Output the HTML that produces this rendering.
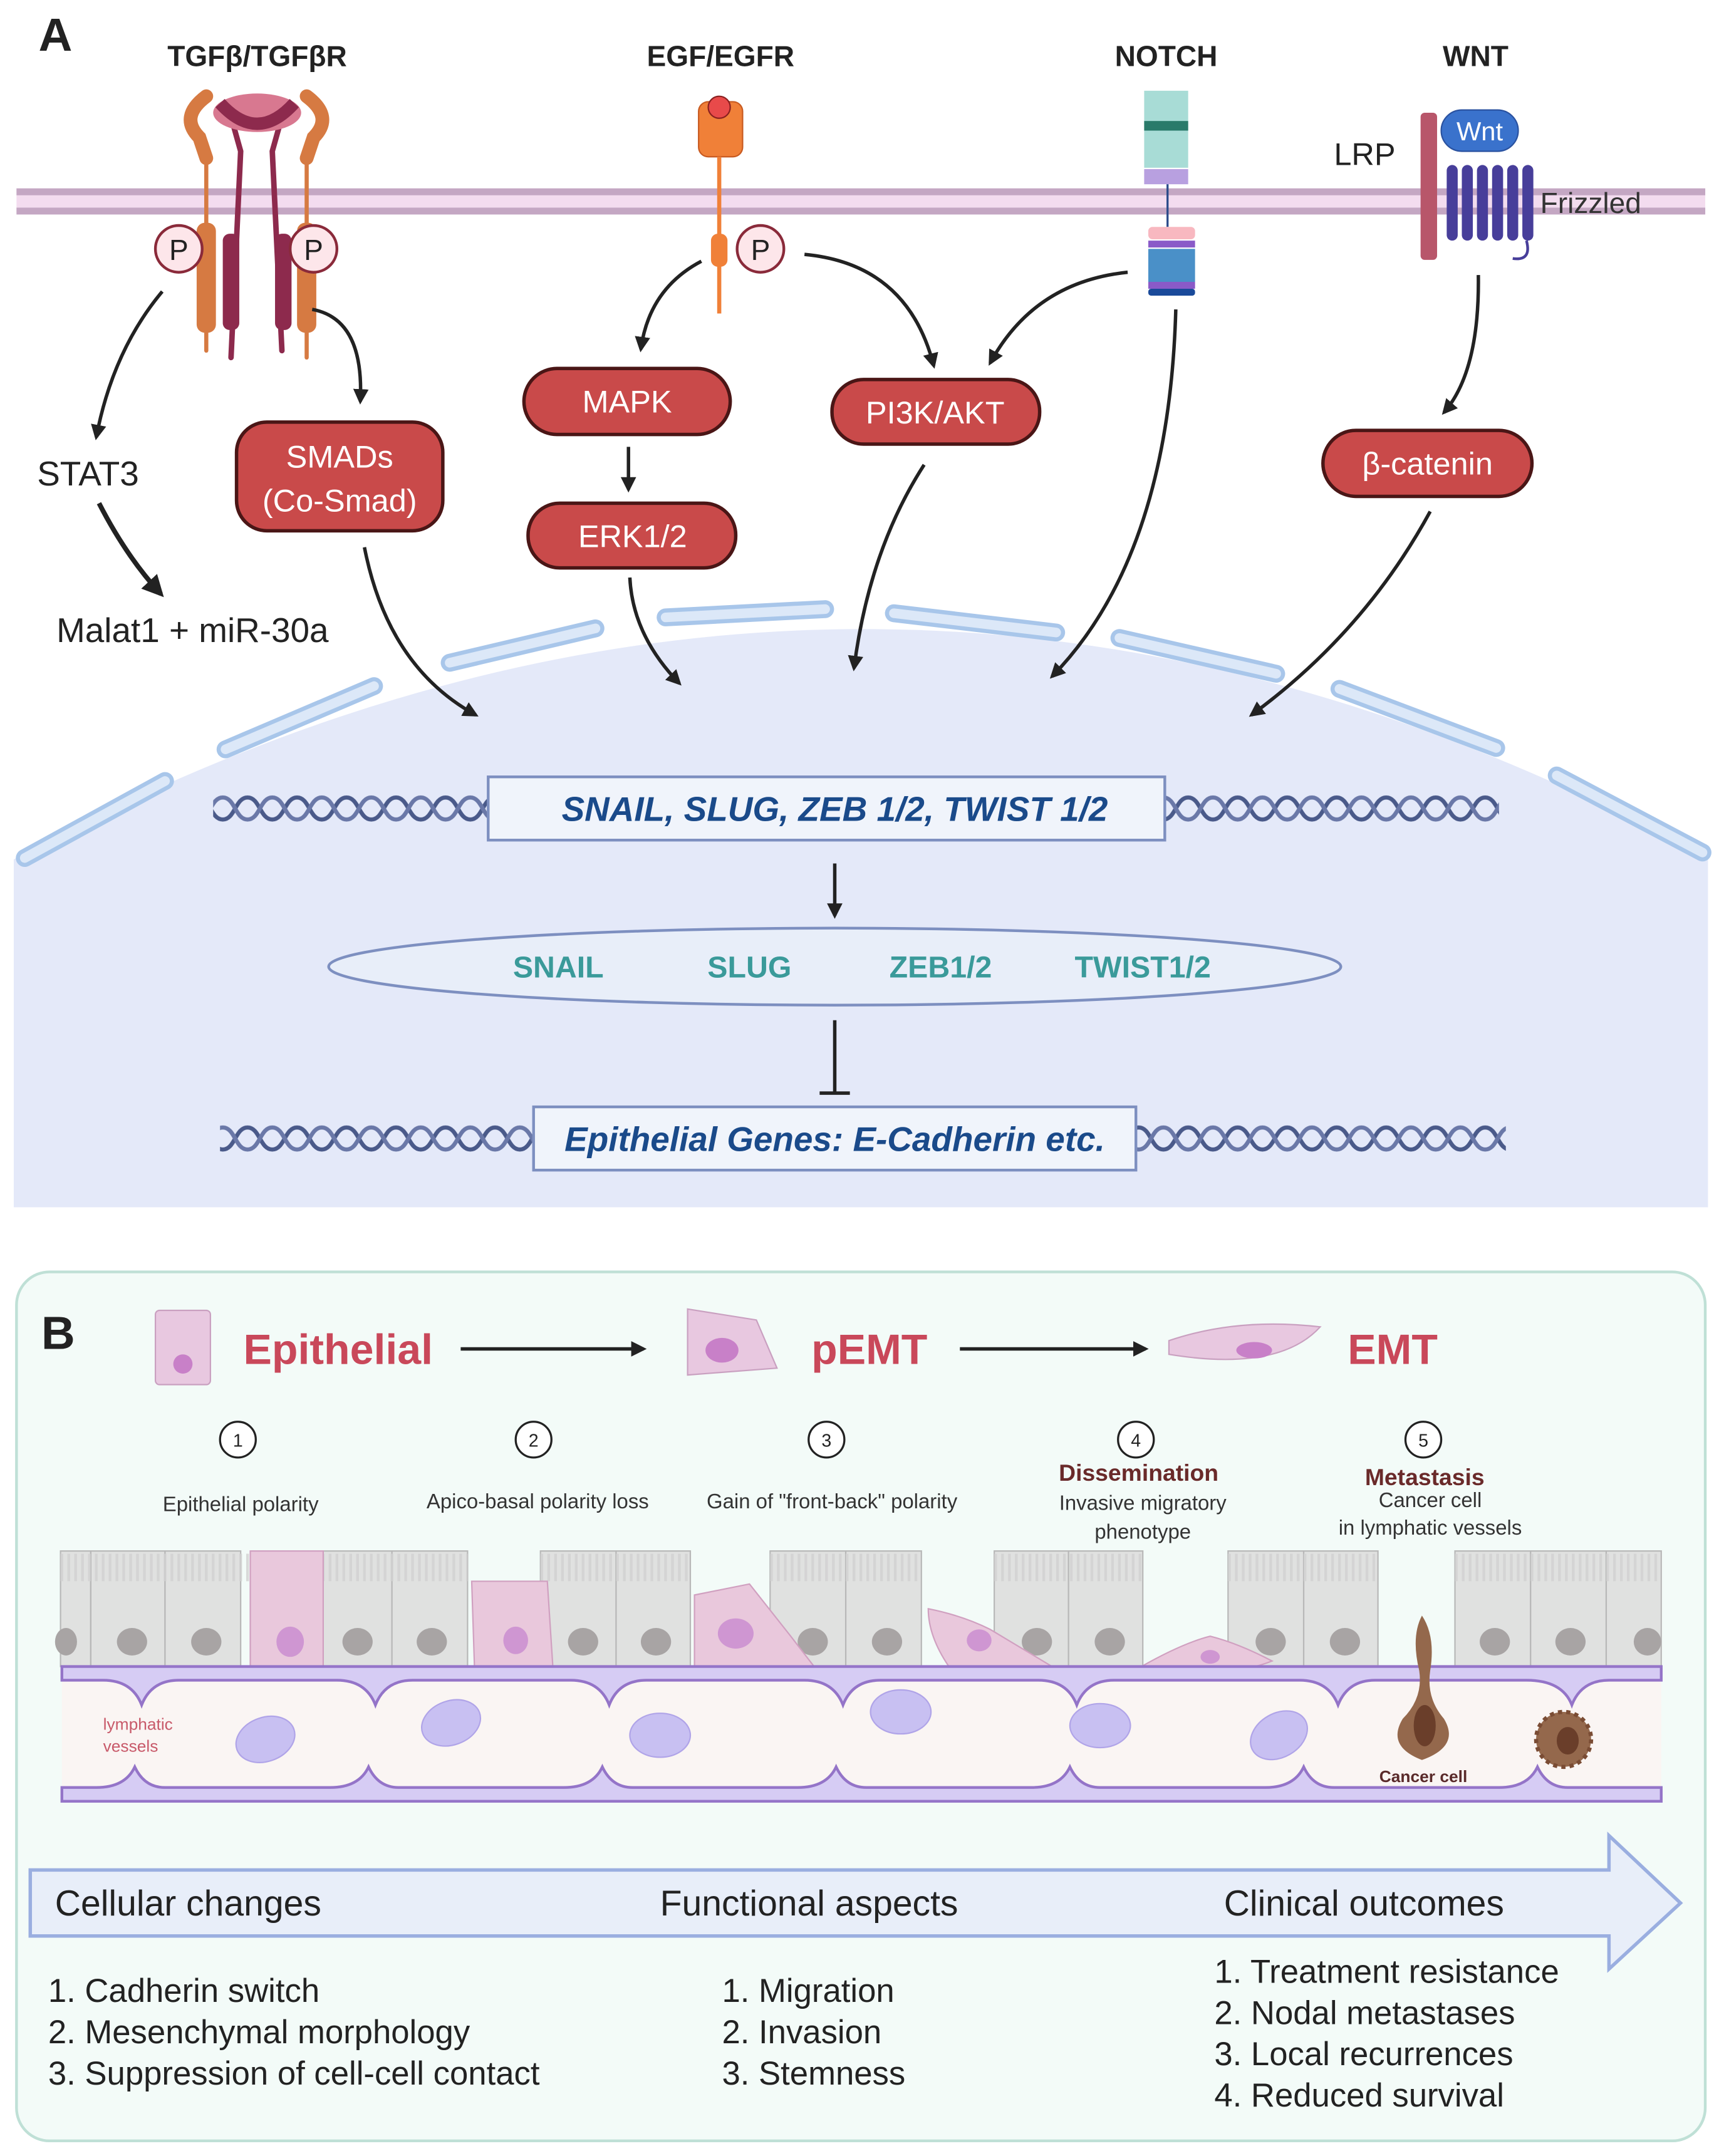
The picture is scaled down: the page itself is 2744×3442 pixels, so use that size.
<!DOCTYPE html>
<html><head><meta charset="utf-8"><style>
html,body{margin:0;padding:0;background:#fff}
svg{display:block}
text{font-family:"Liberation Sans",sans-serif}
</style></head><body>
<svg width="2744" height="3442" viewBox="0 0 1250 1568" preserveAspectRatio="none" xmlns="http://www.w3.org/2000/svg">
<defs>
<marker id="ah" viewBox="0 0 10 10" refX="8" refY="5" markerWidth="4.5" markerHeight="4.5" orient="auto"><path d="M0,0 L10,5 L0,10 z" fill="#222"/></marker>
<pattern id="dna" x="0" y="0" width="36" height="24" patternUnits="userSpaceOnUse">
<path d="M0,4 C9,4 9,20 18,20 C27,20 27,4 36,4" fill="none" stroke="#4a5a8a" stroke-width="3"/>
<path d="M0,20 C9,20 9,4 18,4 C27,4 27,20 36,20" fill="none" stroke="#6a78a8" stroke-width="3"/>
</pattern>
</defs>

<path d="M10,625 Q630,290 1242,625 L1242,878 L10,878 Z" fill="#e4e9f9"/>
<g stroke-linecap="round" fill="none">
<g stroke="#a8c6ea" stroke-width="13">
<path d="M18,624 L120,568"/><path d="M164,545 L272,499"/><path d="M327,482 L433,457"/><path d="M484,449 L600,443"/><path d="M650,446 L768,460"/><path d="M814,464 L928,490"/><path d="M974,501 L1088,544"/><path d="M1132,564 L1238,620"/>
</g>
<g stroke="#dce8f8" stroke-width="7">
<path d="M18,624 L120,568"/><path d="M164,545 L272,499"/><path d="M327,482 L433,457"/><path d="M484,449 L600,443"/><path d="M650,446 L768,460"/><path d="M814,464 L928,490"/><path d="M974,501 L1088,544"/><path d="M1132,564 L1238,620"/>
</g></g>

<rect x="12" y="137" width="1228" height="19" fill="#f3dcef"/>
<rect x="12" y="137" width="1228" height="5" fill="#c4a7c3"/>
<rect x="12" y="151" width="1228" height="5" fill="#c4a7c3"/>

<text x="28" y="37" font-size="34" font-weight="bold" fill="#222">A</text>
<g font-size="21" font-weight="bold" fill="#222" text-anchor="middle">
<text x="187" y="48">TGFβ/TGFβR</text><text x="524" y="48">EGF/EGFR</text><text x="848" y="48">NOTCH</text><text x="1073" y="48">WNT</text>
</g>

<g stroke-linecap="round" fill="none">
<path d="M150,70 Q130,85 145,100 L150,115" stroke="#d67a42" stroke-width="10"/>
<path d="M223,70 Q243,85 228,100 L223,115" stroke="#d67a42" stroke-width="10"/>
<path d="M150,110 L150,255" stroke="#d67a42" stroke-width="3"/>
<path d="M223,110 L223,260" stroke="#d67a42" stroke-width="3"/>
<path d="M168,85 L175,110 L168,260" stroke="#8d2a4d" stroke-width="4"/>
<path d="M205,85 L198,110 L205,255" stroke="#8d2a4d" stroke-width="4"/>
</g>
<ellipse cx="187" cy="82" rx="32" ry="14" fill="#d87890"/>
<path d="M160,75 Q187,105 214,75" stroke="#8d2a4d" stroke-width="9" fill="none"/>
<rect x="143" y="162" width="14" height="80" rx="6" fill="#d67a42"/>
<rect x="216" y="162" width="14" height="80" rx="6" fill="#d67a42"/>
<rect x="162" y="170" width="12" height="70" rx="5" fill="#8d2a4d"/>
<rect x="200" y="170" width="12" height="70" rx="5" fill="#8d2a4d"/>

<rect x="508" y="74" width="32" height="40" rx="7" fill="#f08038" stroke="#c85a20"/>
<circle cx="523" cy="78" r="8" fill="#e84a4a" stroke="#8a2020"/>
<line x1="523" y1="114" x2="523" y2="228" stroke="#f08038" stroke-width="3"/>
<rect x="517" y="170" width="12" height="24" rx="5" fill="#f08038"/>

<g fill="#fde6ea" stroke="#8a2a3a" stroke-width="2">
<circle cx="130" cy="181" r="17"/><circle cx="228" cy="181" r="17"/><circle cx="553" cy="181" r="17"/>
</g>
<g font-size="21" fill="#222" text-anchor="middle"><text x="130" y="189">P</text><text x="228" y="189">P</text><text x="553" y="189">P</text></g>

<rect x="832" y="66" width="32" height="56" fill="#a8dcd6"/>
<rect x="832" y="88" width="32" height="7" fill="#2a7a6a"/>
<rect x="832" y="123" width="32" height="11" fill="#b8a0e0"/>
<line x1="849" y1="134" x2="849" y2="165" stroke="#2a4a8a" stroke-width="1.5"/>
<rect x="835" y="165" width="34" height="9" rx="3" fill="#f8b8c0"/>
<rect x="835" y="175" width="34" height="5" fill="#8a5ac8"/>
<rect x="835" y="181" width="34" height="24" fill="#4a90c8"/>
<rect x="835" y="205" width="34" height="5" fill="#8a5ac8"/>
<rect x="835" y="210" width="34" height="5" rx="2" fill="#1a4a9a"/>

<text x="970" y="120" font-size="23" fill="#222">LRP</text>
<rect x="1033" y="82" width="12" height="107" rx="3" fill="#b8566a"/>
<rect x="1048" y="80" width="56" height="30" rx="15" fill="#3a72cc" stroke="#2a52a0"/>
<text x="1076" y="102" font-size="19" fill="#fff" text-anchor="middle">Wnt</text>
<g fill="#473e9a">
<rect x="1052" y="120" width="8" height="55" rx="4"/><rect x="1063" y="120" width="8" height="55" rx="4"/><rect x="1074" y="120" width="8" height="55" rx="4"/><rect x="1085" y="120" width="8" height="55" rx="4"/><rect x="1096" y="120" width="8" height="55" rx="4"/><rect x="1107" y="120" width="8" height="55" rx="4"/>
</g>
<path d="M1110,175 Q1114,190 1100,188" stroke="#473e9a" stroke-width="2" fill="none"/>
<text x="1120" y="155" font-size="21" fill="#333">Frizzled</text>

<g fill="#c94a4a" stroke="#4a1616" stroke-width="2.5">
<rect x="172" y="307" width="150" height="79" rx="22"/>
<rect x="381" y="268" width="150" height="48" rx="24"/>
<rect x="384" y="366" width="151" height="47" rx="23"/>
<rect x="605" y="276" width="151" height="47" rx="23"/>
<rect x="962" y="313" width="152" height="48" rx="24"/>
</g>
<g fill="#fff" font-size="23" text-anchor="middle">
<text x="247" y="340">SMADs</text><text x="247" y="372">(Co-Smad)</text>
<text x="456" y="300">MAPK</text><text x="460" y="398">ERK1/2</text>
<text x="680" y="308">PI3K/AKT</text><text x="1038" y="345">β-catenin</text>
</g>
<text x="64" y="353" font-size="25" fill="#222" text-anchor="middle">STAT3</text>
<text x="140" y="467" font-size="25" fill="#222" text-anchor="middle">Malat1 + miR-30a</text>

<g fill="none" stroke="#222" stroke-width="2.5" marker-end="url(#ah)">
<path d="M118,212 Q82,255 70,318"/>
<path d="M227,225 Q265,232 262,292"/>
<path d="M72,366 Q92,405 117,432" stroke-width="3.5"/>
<path d="M510,190 Q472,210 466,254"/>
<path d="M457,325 L457,356"/>
<path d="M585,185 Q660,192 679,266"/>
<path d="M820,198 Q752,205 720,264"/>
<path d="M265,398 Q282,485 346,520"/>
<path d="M458,420 Q460,462 494,497"/>
<path d="M672,338 Q632,400 621,486"/>
<path d="M855,225 Q850,405 765,492"/>
<path d="M1075,200 Q1076,270 1050,300"/>
<path d="M1040,372 Q992,460 910,520"/>
<path d="M607,628 L607,666"/>
</g>

<rect x="155" y="576" width="200" height="24" fill="url(#dna)"/>
<rect x="847" y="576" width="243" height="24" fill="url(#dna)"/>
<rect x="355" y="565" width="492" height="46" fill="#f0f4fb" stroke="#7d8fc0" stroke-width="2"/>
<text x="607" y="597" font-size="25" font-weight="bold" font-style="italic" fill="#1a4a8a" text-anchor="middle">SNAIL, SLUG, ZEB 1/2, TWIST 1/2</text>

<ellipse cx="607" cy="703" rx="368" ry="28" fill="#e8eef9" stroke="#7d8fc0" stroke-width="2"/>
<g font-size="22" font-weight="bold" fill="#3a9a9a" text-anchor="middle">
<text x="406" y="711">SNAIL</text><text x="545" y="711">SLUG</text><text x="684" y="711">ZEB1/2</text><text x="831" y="711">TWIST1/2</text>
</g>
<line x1="607" y1="742" x2="607" y2="795" stroke="#222" stroke-width="2.5"/>
<line x1="596" y1="795" x2="618" y2="795" stroke="#222" stroke-width="2.5"/>

<rect x="160" y="814" width="228" height="24" fill="url(#dna)"/>
<rect x="826" y="814" width="269" height="24" fill="url(#dna)"/>
<rect x="388" y="805" width="438" height="46" fill="#f0f4fb" stroke="#7d8fc0" stroke-width="2"/>
<text x="607" y="837" font-size="25" font-weight="bold" font-style="italic" fill="#1a4a8a" text-anchor="middle">Epithelial Genes: E-Cadherin etc.</text>

<rect x="12" y="925" width="1228" height="632" rx="24" fill="#f3fbf8" stroke="#bfe0d6" stroke-width="2"/>
<text x="30" y="981" font-size="34" font-weight="bold" fill="#222">B</text>
<rect x="113" y="953" width="40" height="54" rx="3" fill="#e8c8e0" stroke="#c9a0c0"/>
<ellipse cx="133" cy="992" rx="7" ry="7" fill="#c880c8"/>
<text x="177" y="992" font-size="31" font-weight="bold" fill="#c9485a">Epithelial</text>
<path d="M500,952 L550,960 L565,995 L500,1000 Z" fill="#e8c8e0" stroke="#c9a0c0"/>
<ellipse cx="525" cy="982" rx="12" ry="9" fill="#c880c8"/>
<text x="590" y="992" font-size="31" font-weight="bold" fill="#c9485a">pEMT</text>
<path d="M850,975 Q900,958 960,965 Q930,998 850,985 Z" fill="#e8c8e0" stroke="#c9a0c0"/>
<ellipse cx="912" cy="982" rx="13" ry="6" fill="#c880c8"/>
<text x="980" y="992" font-size="31" font-weight="bold" fill="#c9485a">EMT</text>
<g stroke="#222" stroke-width="2.5" marker-end="url(#ah)"><line x1="335" y1="981" x2="468" y2="981"/><line x1="698" y1="981" x2="833" y2="981"/></g>

<g fill="#fff" stroke="#222" stroke-width="1.5"><circle cx="173" cy="1047" r="13"/><circle cx="388" cy="1047" r="13"/><circle cx="601" cy="1047" r="13"/><circle cx="826" cy="1047" r="13"/><circle cx="1035" cy="1047" r="13"/></g>
<g font-size="13" fill="#222" text-anchor="middle"><text x="173" y="1052">1</text><text x="388" y="1052">2</text><text x="601" y="1052">3</text><text x="826" y="1052">4</text><text x="1035" y="1052">5</text></g>
<g font-size="15" fill="#333" text-anchor="middle">
<text x="175" y="1099">Epithelial polarity</text><text x="391" y="1097">Apico-basal polarity loss</text><text x="605" y="1097">Gain of "front-back" polarity</text>
<text x="831" y="1098">Invasive migratory</text><text x="831" y="1119">phenotype</text>
<text x="1040" y="1096">Cancer cell</text><text x="1040" y="1116">in lymphatic vessels</text>
</g>
<g font-size="17" font-weight="bold" fill="#6a2a2a" text-anchor="middle"><text x="828" y="1077">Dissemination</text><text x="1036" y="1080">Metastasis</text></g>

<g fill="#e0e1e0" stroke="#b8b8b8" stroke-width="1">
<rect x="44" y="1128" width="22" height="84"/><rect x="66" y="1128" width="54" height="84"/><rect x="120" y="1128" width="55" height="84"/>
<rect x="235" y="1128" width="50" height="84"/><rect x="285" y="1128" width="55" height="84"/>
<rect x="393" y="1128" width="55" height="84"/><rect x="448" y="1128" width="54" height="84"/>
<rect x="560" y="1128" width="55" height="84"/><rect x="615" y="1128" width="55" height="84"/>
<rect x="723" y="1128" width="54" height="84"/><rect x="777" y="1128" width="54" height="84"/>
<rect x="893" y="1128" width="55" height="84"/><rect x="948" y="1128" width="54" height="84"/>
<rect x="1058" y="1128" width="55" height="84"/><rect x="1113" y="1128" width="55" height="84"/><rect x="1168" y="1128" width="40" height="84"/>
</g>
<path d="M44,1140 H340 M393,1140 H502 M560,1140 H670 M723,1140 H831 M893,1140 H1002 M1058,1140 H1208" stroke-dasharray="2,3" stroke-width="20" stroke="#d2d2d2" opacity="0.8"/>
<g fill="#a8a4a4">
<ellipse cx="48" cy="1194" rx="8" ry="10"/><ellipse cx="96" cy="1194" rx="11" ry="10"/><ellipse cx="150" cy="1194" rx="11" ry="10"/><ellipse cx="260" cy="1194" rx="11" ry="10"/><ellipse cx="314" cy="1194" rx="11" ry="10"/><ellipse cx="424" cy="1194" rx="11" ry="10"/><ellipse cx="477" cy="1194" rx="11" ry="10"/><ellipse cx="591" cy="1194" rx="11" ry="10"/><ellipse cx="645" cy="1194" rx="11" ry="10"/><ellipse cx="754" cy="1194" rx="11" ry="10"/><ellipse cx="807" cy="1194" rx="11" ry="10"/><ellipse cx="924" cy="1194" rx="11" ry="10"/><ellipse cx="978" cy="1194" rx="11" ry="10"/><ellipse cx="1087" cy="1194" rx="11" ry="10"/><ellipse cx="1142" cy="1194" rx="11" ry="10"/><ellipse cx="1198" cy="1194" rx="10" ry="10"/>
</g>
<g fill="#e9c8dc" stroke="#d0a0c0" stroke-width="1">
<rect x="182" y="1128" width="53" height="84"/>
<path d="M343,1150 L398,1150 L402,1212 L345,1212 Z"/>
<path d="M505,1160 L545,1152 L575,1190 L592,1212 L505,1212 Z"/>
<path d="M675,1170 Q700,1175 720,1185 L765,1212 L690,1212 Q675,1190 675,1170 Z"/>
<path d="M830,1212 Q860,1195 880,1190 Q900,1195 925,1208 Q890,1222 830,1212 Z"/>
</g>
<g fill="#cf96d2"><ellipse cx="211" cy="1194" rx="10" ry="11"/><ellipse cx="375" cy="1193" rx="9" ry="10"/><ellipse cx="535" cy="1188" rx="13" ry="11"/><ellipse cx="712" cy="1193" rx="9" ry="8"/><ellipse cx="880" cy="1205" rx="7" ry="5"/></g>

<rect x="45" y="1212" width="1163" height="96" fill="#faf5f3"/>
<path d="M45,1212 H1208 V1222 L1170,1222 Q1150,1222 1143,1240 Q1136,1222 1110,1222 L1000,1222 Q980,1222 973,1240 Q966,1222 945,1222 L810,1222 Q790,1222 783,1240 Q776,1222 755,1222 L640,1222 Q620,1222 613,1240 Q606,1222 585,1222 L470,1222 Q450,1222 443,1240 Q436,1222 415,1222 L300,1222 Q280,1222 273,1240 Q266,1222 245,1222 L130,1222 Q110,1222 103,1240 Q96,1222 75,1222 L45,1222 Z" fill="#d6ccf4" stroke="#9474c8" stroke-width="2"/>
<path d="M45,1310 H1208 V1300 L1140,1300 Q1125,1300 1118,1285 Q1111,1300 1090,1300 L970,1300 Q955,1300 948,1285 Q941,1300 920,1300 L800,1300 Q785,1300 778,1285 Q771,1300 750,1300 L630,1300 Q615,1300 608,1285 Q601,1300 580,1300 L460,1300 Q445,1300 438,1285 Q431,1300 410,1300 L290,1300 Q275,1300 268,1285 Q261,1300 240,1300 L120,1300 Q105,1300 98,1285 Q91,1300 70,1300 L45,1300 Z" fill="#d6ccf4" stroke="#9474c8" stroke-width="2"/>
<g fill="#c8c0f2" stroke="#b0a4e8">
<ellipse cx="193" cy="1265" rx="22" ry="16" transform="rotate(-20 193 1265)"/><ellipse cx="328" cy="1253" rx="22" ry="16" transform="rotate(-20 328 1253)"/><ellipse cx="480" cy="1262" rx="22" ry="16"/><ellipse cx="655" cy="1245" rx="22" ry="16"/><ellipse cx="800" cy="1255" rx="22" ry="16"/><ellipse cx="930" cy="1262" rx="22" ry="16" transform="rotate(-30 930 1262)"/>
</g>
<text x="75" y="1258" font-size="12" fill="#c85a6a">lymphatic</text><text x="75" y="1274" font-size="12" fill="#c85a6a">vessels</text>
<path d="M1034,1175 Q1026,1190 1032,1215 Q1035,1235 1020,1250 Q1008,1270 1034,1280 Q1062,1270 1050,1250 Q1037,1235 1040,1215 Q1044,1190 1034,1175 Z" fill="#94684c"/>
<ellipse cx="1036" cy="1255" rx="8" ry="15" fill="#6a3e2a"/>
<circle cx="1137" cy="1265" r="20" fill="#94684c" stroke="#7a4c34" stroke-width="3" stroke-dasharray="3,3"/>
<ellipse cx="1140" cy="1266" rx="8" ry="10" fill="#6a3e2a"/>
<text x="1035" y="1296" font-size="12" font-weight="bold" fill="#5a2a2a" text-anchor="middle">Cancer cell</text>

<path d="M22,1360 L1170,1360 L1170,1335 L1222,1384 L1170,1432 L1170,1408 L22,1408 Z" fill="#e8eef9" stroke="#9aaee0" stroke-width="2.5"/>
<g font-size="26" fill="#222">
<text x="40" y="1393">Cellular changes</text><text x="480" y="1393">Functional aspects</text><text x="890" y="1393">Clinical outcomes</text>
</g>
<g font-size="24" fill="#222">
<text x="35" y="1456">1. Cadherin switch</text><text x="35" y="1486">2. Mesenchymal morphology</text><text x="35" y="1516">3. Suppression of cell-cell contact</text>
<text x="525" y="1456">1. Migration</text><text x="525" y="1486">2. Invasion</text><text x="525" y="1516">3. Stemness</text>
<text x="883" y="1442">1. Treatment resistance</text><text x="883" y="1472">2. Nodal metastases</text><text x="883" y="1502">3. Local recurrences</text><text x="883" y="1532">4. Reduced survival</text>
</g>
</svg>
</body></html>
